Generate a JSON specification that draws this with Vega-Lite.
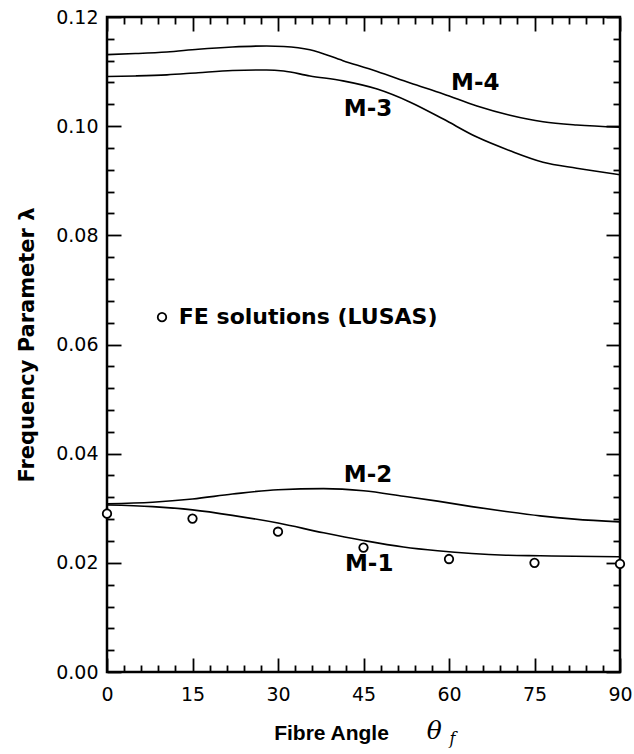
{
  "$schema": "https://vega.github.io/schema/vega-lite/v6.json",
  "width": 513,
  "height": 655,
  "autosize": {"type": "none"},
  "padding": {"left": 107, "top": 17, "right": 14, "bottom": 82},
  "background": "white",
  "config": {
    "view": {"stroke": "black", "strokeWidth": 2.5},
    "axis": {"grid": false, "domain": false, "labelColor": "black", "tickColor": "black", "titleColor": "black"}
  },
  "datasets": {
    "curves": [
      {"angle": 0, "lambda": 0.1131, "mode": "M-4"},
      {"angle": 5, "lambda": 0.1133, "mode": "M-4"},
      {"angle": 10.5, "lambda": 0.1136, "mode": "M-4"},
      {"angle": 16, "lambda": 0.1141, "mode": "M-4"},
      {"angle": 22, "lambda": 0.1145, "mode": "M-4"},
      {"angle": 28, "lambda": 0.1147, "mode": "M-4"},
      {"angle": 31, "lambda": 0.1146, "mode": "M-4"},
      {"angle": 35.6, "lambda": 0.1140, "mode": "M-4"},
      {"angle": 41.4, "lambda": 0.1120, "mode": "M-4"},
      {"angle": 47.4, "lambda": 0.1100, "mode": "M-4"},
      {"angle": 53.2, "lambda": 0.1079, "mode": "M-4"},
      {"angle": 59, "lambda": 0.1059, "mode": "M-4"},
      {"angle": 64.9, "lambda": 0.1037, "mode": "M-4"},
      {"angle": 70.7, "lambda": 0.1020, "mode": "M-4"},
      {"angle": 76.5, "lambda": 0.1008, "mode": "M-4"},
      {"angle": 82.4, "lambda": 0.1002, "mode": "M-4"},
      {"angle": 90, "lambda": 0.0998, "mode": "M-4"},
      {"angle": 0, "lambda": 0.1091, "mode": "M-3"},
      {"angle": 5, "lambda": 0.1092, "mode": "M-3"},
      {"angle": 10.5, "lambda": 0.1094, "mode": "M-3"},
      {"angle": 16, "lambda": 0.1098, "mode": "M-3"},
      {"angle": 22, "lambda": 0.1102, "mode": "M-3"},
      {"angle": 28, "lambda": 0.1103, "mode": "M-3"},
      {"angle": 31, "lambda": 0.1101, "mode": "M-3"},
      {"angle": 35.6, "lambda": 0.1092, "mode": "M-3"},
      {"angle": 41.4, "lambda": 0.1083, "mode": "M-3"},
      {"angle": 47.4, "lambda": 0.1068, "mode": "M-3"},
      {"angle": 53.2, "lambda": 0.1044, "mode": "M-3"},
      {"angle": 59, "lambda": 0.1013, "mode": "M-3"},
      {"angle": 64.9, "lambda": 0.0980, "mode": "M-3"},
      {"angle": 70.7, "lambda": 0.0955, "mode": "M-3"},
      {"angle": 76.5, "lambda": 0.0934, "mode": "M-3"},
      {"angle": 82.4, "lambda": 0.0923, "mode": "M-3"},
      {"angle": 90, "lambda": 0.0911, "mode": "M-3"},
      {"angle": 0, "lambda": 0.0308, "mode": "M-2"},
      {"angle": 8, "lambda": 0.0311, "mode": "M-2"},
      {"angle": 15, "lambda": 0.0317, "mode": "M-2"},
      {"angle": 22, "lambda": 0.0326, "mode": "M-2"},
      {"angle": 30, "lambda": 0.0334, "mode": "M-2"},
      {"angle": 38, "lambda": 0.0336, "mode": "M-2"},
      {"angle": 45, "lambda": 0.0332, "mode": "M-2"},
      {"angle": 52, "lambda": 0.0322, "mode": "M-2"},
      {"angle": 58, "lambda": 0.0313, "mode": "M-2"},
      {"angle": 64, "lambda": 0.0303, "mode": "M-2"},
      {"angle": 70, "lambda": 0.0294, "mode": "M-2"},
      {"angle": 76, "lambda": 0.0286, "mode": "M-2"},
      {"angle": 82, "lambda": 0.0280, "mode": "M-2"},
      {"angle": 90, "lambda": 0.0275, "mode": "M-2"},
      {"angle": 0, "lambda": 0.0306, "mode": "M-1"},
      {"angle": 8, "lambda": 0.0303, "mode": "M-1"},
      {"angle": 15, "lambda": 0.0297, "mode": "M-1"},
      {"angle": 22, "lambda": 0.0287, "mode": "M-1"},
      {"angle": 30, "lambda": 0.0273, "mode": "M-1"},
      {"angle": 38, "lambda": 0.0255, "mode": "M-1"},
      {"angle": 45, "lambda": 0.0241, "mode": "M-1"},
      {"angle": 52, "lambda": 0.0229, "mode": "M-1"},
      {"angle": 58, "lambda": 0.0222, "mode": "M-1"},
      {"angle": 64, "lambda": 0.0217, "mode": "M-1"},
      {"angle": 70, "lambda": 0.0214, "mode": "M-1"},
      {"angle": 76, "lambda": 0.0213, "mode": "M-1"},
      {"angle": 82, "lambda": 0.0212, "mode": "M-1"},
      {"angle": 90, "lambda": 0.0211, "mode": "M-1"}
    ],
    "fe": [
      {"angle": 0, "lambda": 0.0290},
      {"angle": 15, "lambda": 0.0281},
      {"angle": 30, "lambda": 0.0257},
      {"angle": 45, "lambda": 0.0228},
      {"angle": 60, "lambda": 0.0207},
      {"angle": 75, "lambda": 0.0200},
      {"angle": 90, "lambda": 0.0198}
    ],
    "modelabels": [
      {"angle": 64.6, "lambda": 0.1079, "label": "M-4"},
      {"angle": 45.8, "lambda": 0.1031, "label": "M-3"},
      {"angle": 45.8, "lambda": 0.0361, "label": "M-2"},
      {"angle": 46.0, "lambda": 0.0198, "label": "M-1"}
    ],
    "legend": [
      {"angle": 9.65, "lambda": 0.0650, "textangle": 12.6, "label": "FE solutions (LUSAS)"}
    ],
    "xsym": [
      {"angle": 57.4, "lambda": -0.0123, "sym": "θ", "part": "main"},
      {"angle": 60.6, "lambda": -0.0131, "sym": "f", "part": "sub"}
    ]
  },
  "layer": [
    {
      "data": {"name": "curves"},
      "mark": {"type": "line", "color": "black", "strokeWidth": 1.6, "interpolate": "monotone"},
      "encoding": {
        "x": {"field": "angle", "type": "quantitative", "scale": {"domain": [0, 90], "nice": false},
          "axis": {"orient": "bottom", "values": [0, 15, 30, 45, 60, 75, 90], "ticks": false, "domain": false,
            "labelFont": "DejaVu Sans", "labelFontSize": 19, "labelPadding": 13, "labelFlush": false,
            "title": "Fibre Angle", "titleFont": "Liberation Sans", "titleFontWeight": "bold", "titleFontSize": 21,
            "titleX": 224, "titleY": 67, "titleAlign": "center", "titleBaseline": "alphabetic"}},
        "y": {"field": "lambda", "type": "quantitative", "scale": {"domain": [0, 0.12], "nice": false},
          "axis": {"orient": "left", "values": [0, 0.02, 0.04, 0.06, 0.08, 0.1, 0.12], "format": ".2f", "ticks": false, "domain": false,
            "labelFont": "DejaVu Sans", "labelFontSize": 19, "labelPadding": 9, "labelFlush": false,
            "title": "Frequency Parameter  λ", "titleFont": "DejaVu Sans", "titleFontWeight": "bold", "titleFontSize": 21,
            "titleAngle": -90, "titleX": -74, "titleY": 327.5, "titleAlign": "center", "titleBaseline": "alphabetic"}},
        "detail": {"field": "mode"}
      }
    },
    {
      "data": {"name": "fe"},
      "mark": {"type": "point", "shape": "circle", "filled": false, "fill": "white", "fillOpacity": 1, "stroke": "black", "strokeWidth": 1.8, "size": 72, "opacity": 1},
      "encoding": {
        "x": {"field": "angle", "type": "quantitative",
          "axis": {"orient": "bottom", "values": [0, 3, 6, 9, 12, 15, 18, 21, 24, 27, 30, 33, 36, 39, 42, 45, 48, 51, 54, 57, 60, 63, 66, 69, 72, 75, 78, 81, 84, 87, 90],
            "labels": false, "domain": false, "title": null, "tickWidth": 1.8,
            "tickSize": {"condition": {"test": "datum.value % 15 === 0", "value": -14}, "value": -7}}},
        "y": {"field": "lambda", "type": "quantitative",
          "axis": {"orient": "left", "values": [0, 0.004, 0.008, 0.012, 0.016, 0.02, 0.024, 0.028, 0.032, 0.036, 0.04, 0.044, 0.048, 0.052, 0.056, 0.06, 0.064, 0.068, 0.072, 0.076, 0.08, 0.084, 0.088, 0.092, 0.096, 0.1, 0.104, 0.108, 0.112, 0.116, 0.12],
            "labels": false, "domain": false, "title": null, "tickWidth": 1.8,
            "tickSize": {"condition": {"test": "abs(datum.value / 0.02 - round(datum.value / 0.02)) < 0.001", "value": -14}, "value": -7}}}
      }
    },
    {
      "data": {"name": "modelabels"},
      "mark": {"type": "text", "font": "DejaVu Sans", "fontWeight": "bold", "fontSize": 23, "align": "center", "baseline": "middle", "color": "black"},
      "encoding": {
        "x": {"field": "angle", "type": "quantitative",
          "axis": {"orient": "top", "values": [0, 3, 6, 9, 12, 15, 18, 21, 24, 27, 30, 33, 36, 39, 42, 45, 48, 51, 54, 57, 60, 63, 66, 69, 72, 75, 78, 81, 84, 87, 90],
            "labels": false, "domain": false, "title": null, "tickWidth": 1.8,
            "tickSize": {"condition": {"test": "datum.value % 15 === 0", "value": -14}, "value": -7}}},
        "y": {"field": "lambda", "type": "quantitative",
          "axis": {"orient": "right", "values": [0, 0.004, 0.008, 0.012, 0.016, 0.02, 0.024, 0.028, 0.032, 0.036, 0.04, 0.044, 0.048, 0.052, 0.056, 0.06, 0.064, 0.068, 0.072, 0.076, 0.08, 0.084, 0.088, 0.092, 0.096, 0.1, 0.104, 0.108, 0.112, 0.116, 0.12],
            "labels": false, "domain": false, "title": null, "tickWidth": 1.8,
            "tickSize": {"condition": {"test": "abs(datum.value / 0.02 - round(datum.value / 0.02)) < 0.001", "value": -14}, "value": -7}}},
        "text": {"field": "label"}
      }
    },
    {
      "data": {"name": "legend"},
      "mark": {"type": "point", "shape": "circle", "filled": false, "fill": "white", "fillOpacity": 1, "stroke": "black", "strokeWidth": 1.8, "size": 72, "opacity": 1},
      "encoding": {
        "x": {"field": "angle", "type": "quantitative", "axis": null},
        "y": {"field": "lambda", "type": "quantitative", "axis": null}
      }
    },
    {
      "data": {"name": "legend"},
      "mark": {"type": "text", "font": "DejaVu Sans", "fontWeight": "bold", "fontSize": 22, "align": "left", "baseline": "middle", "color": "black"},
      "encoding": {
        "x": {"field": "textangle", "type": "quantitative", "axis": null},
        "y": {"field": "lambda", "type": "quantitative", "axis": null},
        "text": {"field": "label"}
      }
    },
    {
      "data": {"name": "xsym"},
      "mark": {"type": "text", "font": "DejaVu Serif", "fontStyle": "italic", "align": "center", "baseline": "alphabetic", "color": "black"},
      "encoding": {
        "x": {"field": "angle", "type": "quantitative", "axis": null},
        "y": {"field": "lambda", "type": "quantitative", "axis": null},
        "text": {"field": "sym"},
        "size": {"field": "part", "type": "nominal", "scale": {"domain": ["main", "sub"], "range": [25, 16]}, "legend": null}
      }
    }
  ],
  "resolve": {"axis": {"x": "independent", "y": "independent"}}
}
